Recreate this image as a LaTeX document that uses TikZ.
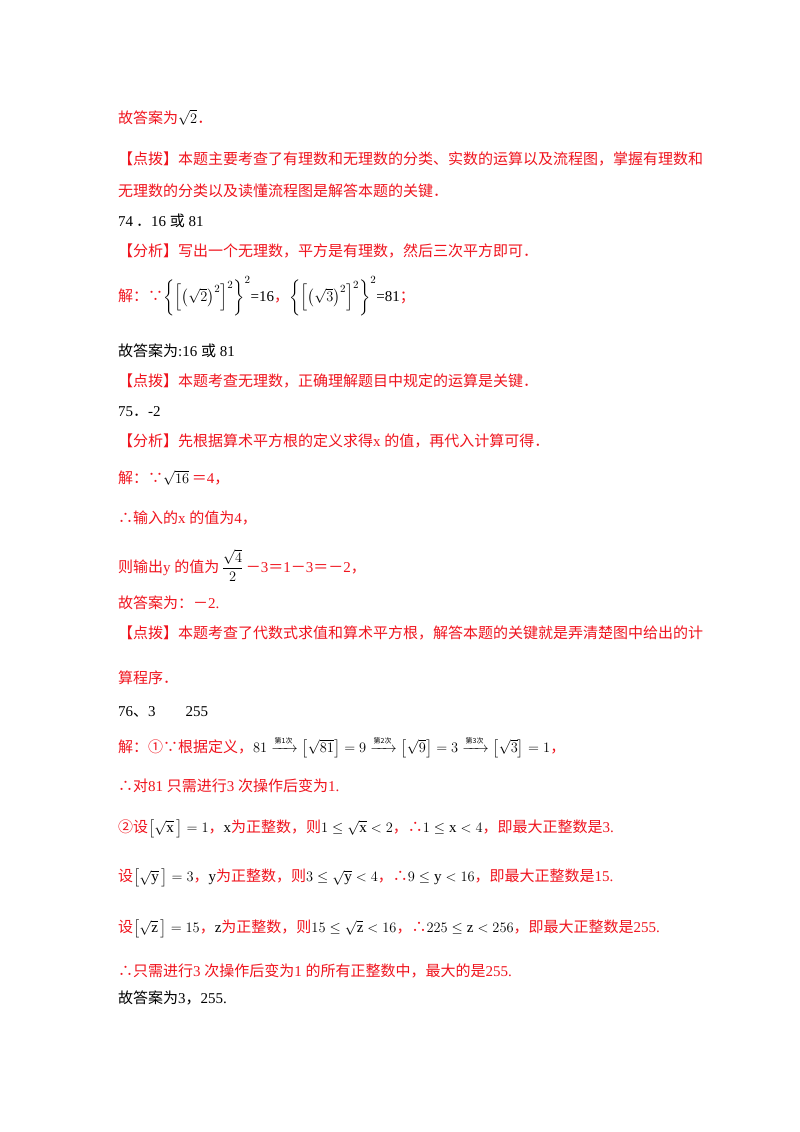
\documentclass[tikz,border=0pt]{standalone}
\usepackage{fontspec}
\setmainfont{Liberation Serif}
\newfontfamily\cjk{Noto Sans CJK SC}
\usepackage{amsmath,amssymb}
\definecolor{rd}{RGB}{240,20,30}
\newcommand{\R}[1]{\textcolor{rd}{\cjk #1}}
\newcommand{\ARR}[1]{\xrightarrow{\text{\cjk\fontsize{7}{7}\selectfont #1}}}
\tikzset{ln/.style={anchor=base west,inner sep=0pt,font=\fontsize{15}{15}\selectfont,text=black}}
\begin{document}
\begin{tikzpicture}[x=1pt,y=-1pt]
\useasboundingbox[fill=white] (0,0) rectangle (800,1132);
\node[ln] (l1) at (118,123) {\R{故答案为}$\sqrt{2}$\R{．}};
\node[ln] (l2) at (118,164) {\R{【点拨】本题主要考查了有理数和无理数的分类、实数的运算以及流程图，掌握有理数和}};
\node[ln] (l3) at (118,196) {\R{无理数的分类以及读懂流程图是解答本题的关键．}};
\node[ln] (l4) at (118,226) {74\hspace{3pt}{\cjk ．}16 {\cjk 或} 81};
\node[ln] (l5) at (118,256) {\R{【分析】写出一个无理数，平方是有理数，然后三次平方即可．}};
\node[ln] (l6) at (118,301) {\R{解：∵}$\left\{\left[\left(\sqrt{2}\right)^2\right]^2\right\}^2$=16\R{，}$\left\{\left[\left(\sqrt{3}\right)^2\right]^2\right\}^2$=81\R{；}};
\node[ln] (l7) at (118,356) {{\cjk 故答案为}:16 {\cjk 或} 81};
\node[ln] (l8) at (118,386) {\R{【点拨】本题考查无理数，正确理解题目中规定的运算是关键．}};
\node[ln] (l9) at (118,416) {75{\cjk ．}-2};
\node[ln] (l10) at (118,446) {\R{【分析】先根据算术平方根的定义求得}\textcolor{rd}{ x }\R{的值，再代入计算可得．}};
\node[ln] (l11) at (118,483) {\R{解：∵}$\sqrt{16}$\,\textcolor{rd}{{\cjk ＝}4{\cjk ，}}};
\node[ln] (l12) at (118,523) {\R{∴输入的}\textcolor{rd}{ x }\R{的值为}\textcolor{rd}{4}\R{，}};
\node[ln] (l13) at (118,572) {\R{则输出}\textcolor{rd}{ y }\R{的值为}\,$\dfrac{\sqrt{4}}{2}$\,\textcolor{rd}{{\cjk －}3{\cjk ＝}1{\cjk －}3{\cjk ＝}{\cjk －}2{\cjk ，}}};
\node[ln] (l14) at (118,608) {\R{故答案为：－}\textcolor{rd}{2.}};
\node[ln] (l15) at (118,638) {\R{【点拨】本题考查了代数式求值和算术平方根，解答本题的关键就是弄清楚图中给出的计}};
\node[ln] (l16) at (118,683) {\R{算程序．}};
\node[ln] (l17) at (118,716) {76{\cjk 、}3\hspace{2em}255};
\node[ln] (l18) at (118,752) {\R{解：①∵根据定义，}$81\ARR{第1次}\left[\sqrt{81}\right]=9\ARR{第2次}\left[\sqrt{9}\right]=3\ARR{第3次}\left[\sqrt{3}\right]=1$\R{，}};
\node[ln] (l19) at (118,791) {\R{∴对}\textcolor{rd}{ 81 }\R{只需进行}\textcolor{rd}{ 3 }\R{次操作后变为}\textcolor{rd}{ 1.}};
\node[ln] (l20) at (118,832) {\R{②设}$\left[\sqrt{\mathrm{x}}\,\right]=1$\R{，}x\R{为正整数，则}$1\le\sqrt{\mathrm{x}}<2$\R{，∴}$1\le \mathrm{x}<4$\R{，即最大正整数是}\textcolor{rd}{ 3.}};
\node[ln] (l21) at (118,881) {\R{设}$\left[\sqrt{\mathrm{y}}\,\right]=3$\R{，}y\R{为正整数，则}$3\le\sqrt{\mathrm{y}}<4$\R{，∴}$9\le \mathrm{y}<16$\R{，即最大正整数是}\textcolor{rd}{ 15.}};
\node[ln] (l22) at (118,932) {\R{设}$\left[\sqrt{\mathrm{z}}\,\right]=15$\R{，}z\R{为正整数，则}$15\le\sqrt{\mathrm{z}}<16$\R{，∴}$225\le \mathrm{z}<256$\R{，即最大正整数是}\textcolor{rd}{ 255.}};
\node[ln] (l23) at (118,976) {\R{∴只需进行}\textcolor{rd}{ 3 }\R{次操作后变为}\textcolor{rd}{ 1 }\R{的所有正整数中，最大的是}\textcolor{rd}{ 255.}};
\node[ln] (l24) at (118,1003) {{\cjk 故答案为}3{\cjk ，}255.};
\end{tikzpicture}
\end{document}
